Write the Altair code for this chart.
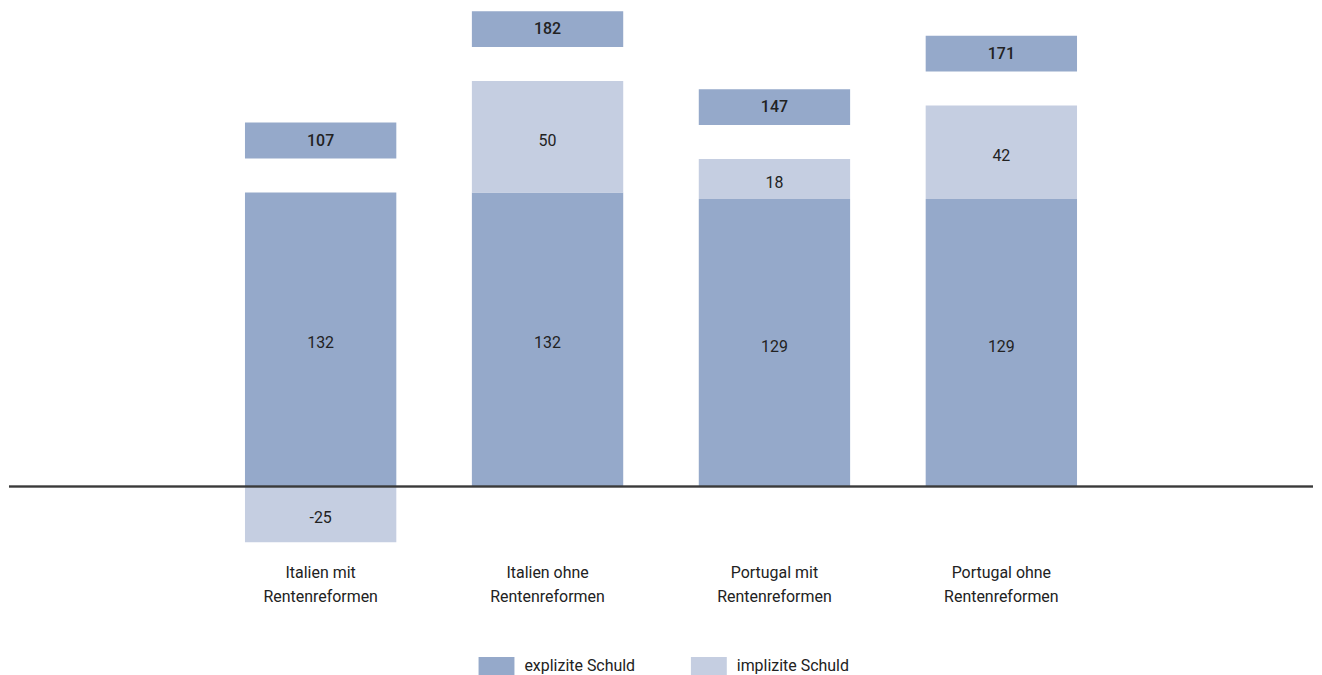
import altair as alt
import pandas as pd

categories = ["Italien mit\nRentenreformen", "Italien ohne\nRentenreformen",
              "Portugal mit\nRentenreformen", "Portugal ohne\nRentenreformen"]
explizit = [132, 132, 129, 129]
implizit = [-25, 50, 18, 42]
gesamt = [107, 182, 147, 171]
series = ["explizite Schuld", "implizite Schuld"]
colors = ["#95A9CA", "#C5CEE1"]

FONT_NUM = "Roboto"
FONT_TXT = "Roboto"

rows = []
for c, e, i in zip(categories, explizit, implizit):
    rows.append({"cat": c, "series": series[0], "y0": 0, "y1": e, "v": str(e)})
    if i >= 0:
        rows.append({"cat": c, "series": series[1], "y0": e, "y1": e + i, "v": str(i)})
    else:
        rows.append({"cat": c, "series": series[1], "y0": 0, "y1": i, "v": str(i)})
seg = pd.DataFrame(rows)
seg["mid"] = (seg["y0"] + seg["y1"]) / 2

tot = pd.DataFrame({
    "cat": categories,
    "top": [max(e, e + i) for e, i in zip(explizit, implizit)],
    "total": [str(g) for g in gesamt],
})

# empty bands on both sides give the wide outer margins of the original
xdomain = [" "] + categories + ["  "]
xscale = alt.Scale(domain=xdomain, paddingInner=0.333, paddingOuter=0.04)
yscale = alt.Scale(domain=[-32.7, 214.3], nice=False, zero=False)

x_enc = alt.X("cat:N", scale=xscale, sort=xdomain, title=None,
              axis=alt.Axis(labelAngle=0, domain=False, ticks=False,
                            labelExpr="split(trim(datum.label), '\\n')",
                            labelFont=FONT_TXT, labelFontSize=16,
                            labelColor="#222222", labelLineHeight=24,
                            labelPadding=5))

bars = alt.Chart(seg).mark_bar().encode(
    x=x_enc,
    y=alt.Y("y0:Q", scale=yscale, axis=None),
    y2="y1:Q",
    color=alt.Color("series:N", scale=alt.Scale(domain=series, range=colors),
                    legend=alt.Legend(title=None, orient="none", direction="horizontal",
                                      legendX=471, legendY=641,
                                      symbolType="M-1,-0.5H1V0.5H-1Z", symbolSize=1296,
                                      symbolStrokeWidth=0, symbolOpacity=1,
                                      labelFont=FONT_TXT, labelFontSize=16,
                                      labelColor="#222222", labelOffset=10,
                                      columnPadding=55)),
)

labels = alt.Chart(seg).mark_text(font=FONT_NUM, fontSize=16, color="#222222",
                                  baseline="middle", dy=4).encode(
    x=alt.X("cat:N", scale=xscale, sort=xdomain),
    y=alt.Y("mid:Q", scale=yscale),
    text="v:N",
)

boxes = alt.Chart(tot).mark_bar(color=colors[0], yOffset=-70, y2Offset=-34).encode(
    x=alt.X("cat:N", scale=xscale, sort=xdomain),
    y=alt.Y("top:Q", scale=yscale),
    y2="top:Q",
)

box_text = alt.Chart(tot).mark_text(font=FONT_NUM, fontSize=16, fontWeight=500,
                                    color="#222222", baseline="middle", dy=-52).encode(
    x=alt.X("cat:N", scale=xscale, sort=xdomain),
    y=alt.Y("top:Q", scale=yscale),
    text="total:N",
)

zero = alt.Chart(tot).transform_calculate(z="0").mark_rule(
    color="#3a3a3a", strokeWidth=1.3).encode(
    y=alt.Y("z:Q", scale=yscale),
)

chart = alt.layer(bars, labels, boxes, box_text, zero).properties(
    width=1308, height=552, padding=0
).configure_view(stroke=None)

chart.save("out.html", embed_options={"renderer": "svg", "actions": False})
